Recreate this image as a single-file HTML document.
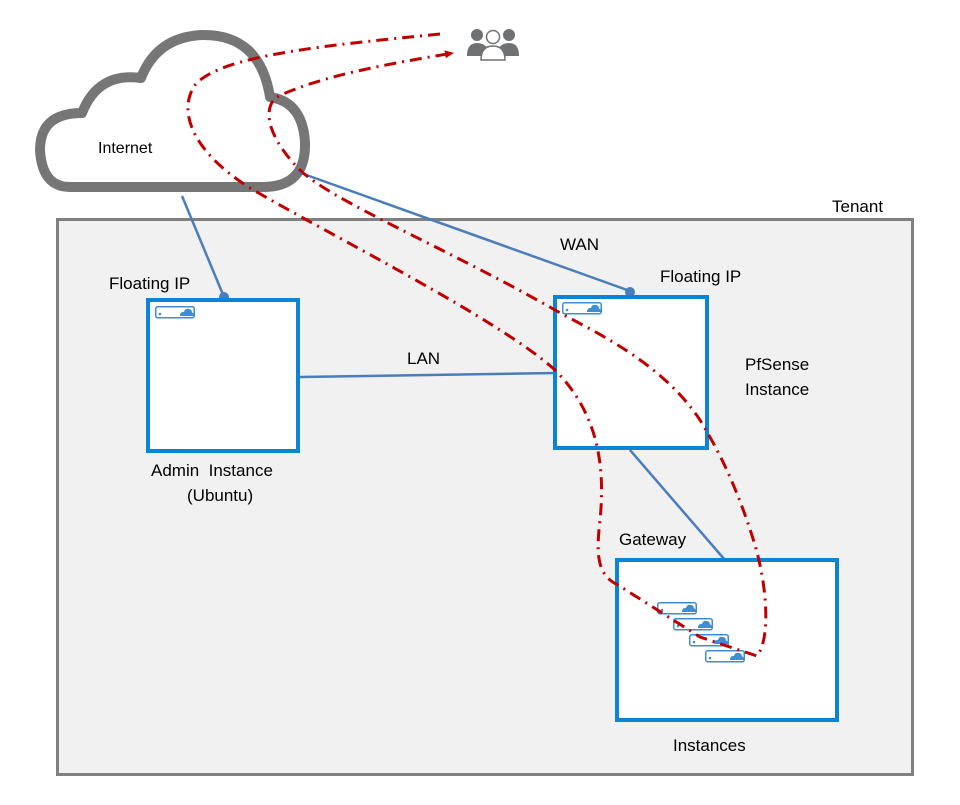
<!DOCTYPE html>
<html><head><meta charset="utf-8"><style>
html,body{margin:0;padding:0;background:#fff;}
svg{display:block;font-family:"Liberation Sans",Arial,sans-serif;}
</style></head><body>
<svg width="960" height="805" viewBox="0 0 960 805" xmlns="http://www.w3.org/2000/svg">
<defs>
<marker id="ah" markerWidth="10" markerHeight="10" refX="8" refY="5" orient="auto" markerUnits="userSpaceOnUse">
<path d="M0,1 L9,5 L0,9 Z" fill="#c00000"/></marker>
<g id="ic"><rect x="0.75" y="0.75" width="38.5" height="11" rx="2" fill="#fff" stroke="#3a8fd6" stroke-width="1.5"/>
<circle cx="5" cy="8" r="1.3" fill="#3a8fd6"/>
<path d="M25,10 Q25,5.5 29,6 Q30,2 34,3 Q37,3.5 37,6.5 Q39.5,7 38.5,10 Z" fill="#3a8fd6"/></g>
</defs>
<rect x="57.5" y="219.5" width="855" height="555" fill="#f1f1f1" stroke="#808080" stroke-width="3"/>
<text x="832" y="212" font-size="17">Tenant</text>
<path d="M70,187 L263,187 Q306,187 305,143 Q303,102 270,97 Q260,34 202,35 Q157,37 141,78 Q98,72 82,113 Q40,113 40,150 Q42,187 70,187 Z" fill="#fff" stroke="#767676" stroke-width="10" stroke-linejoin="round"/>
<text x="98" y="153" font-size="16">Internet</text>
<g fill="#6f7173">
<circle cx="477" cy="35" r="6"/><path d="M467,56 Q467,43 477,43 Q484,43 487,48 L485,56 Z"/>
<circle cx="509" cy="35" r="6"/><path d="M519,56 Q519,43 509,43 Q502,43 499,48 L501,56 Z"/>
</g>
<circle cx="493" cy="37" r="6.5" fill="#fff" stroke="#6f7173" stroke-width="1.5"/>
<path d="M481,60 Q481,46 493,46 Q505,46 505,60 Z" fill="#fff" stroke="#6f7173" stroke-width="1.5"/>
<g stroke="#4a7ebb" stroke-width="2.5" fill="none">
<line x1="182" y1="196" x2="224" y2="297"/>
<line x1="298" y1="172" x2="630" y2="291"/>
<line x1="300" y1="377" x2="555" y2="373"/>
<line x1="630" y1="450" x2="725" y2="560"/>
</g>
<circle cx="224" cy="297" r="5" fill="#4a7ebb"/>
<circle cx="630" cy="292" r="5" fill="#4a7ebb"/>
<rect x="148" y="300" width="150" height="151" fill="#fff" stroke="#0a85d6" stroke-width="4"/>
<rect x="555" y="297" width="152" height="151" fill="#fff" stroke="#0a85d6" stroke-width="4"/>
<rect x="617" y="560" width="220" height="160" fill="#fff" stroke="#0a85d6" stroke-width="4"/>
<use href="#ic" x="155" y="306"/>
<use href="#ic" x="562" y="302"/>
<use href="#ic" x="657" y="602"/>
<use href="#ic" x="673" y="618"/>
<use href="#ic" x="689" y="634"/>
<use href="#ic" x="705" y="650"/>
<path d="M440,34 C330,45 220,55 195,85 C178,110 190,150 250,188 C330,235 500,320 555,370 C600,415 605,470 600,520 C596,555 597,575 618,585 L700,637 L757,656 C770,640 768,590 755,545 C735,480 715,445 700,420 C660,360 590,330 555,310 C450,250 330,200 300,170 C275,145 260,115 275,98 C320,75 400,62 453,53" fill="none" stroke="#c00000" stroke-width="3" stroke-dasharray="12,6,2,6" marker-end="url(#ah)"/>
<g font-size="17" fill="#000">
<text x="109" y="289">Floating IP</text>
<text x="660" y="282">Floating IP</text>
<text x="560" y="250">WAN</text>
<text x="407" y="364">LAN</text>
<text x="745" y="370">PfSense</text>
<text x="745" y="395">Instance</text>
<text x="151" y="476">Admin&#160; Instance</text>
<text x="187" y="501">(Ubuntu)</text>
<text x="619" y="545">Gateway</text>
<text x="673" y="751">Instances</text>
</g>
</svg>
</body></html>
